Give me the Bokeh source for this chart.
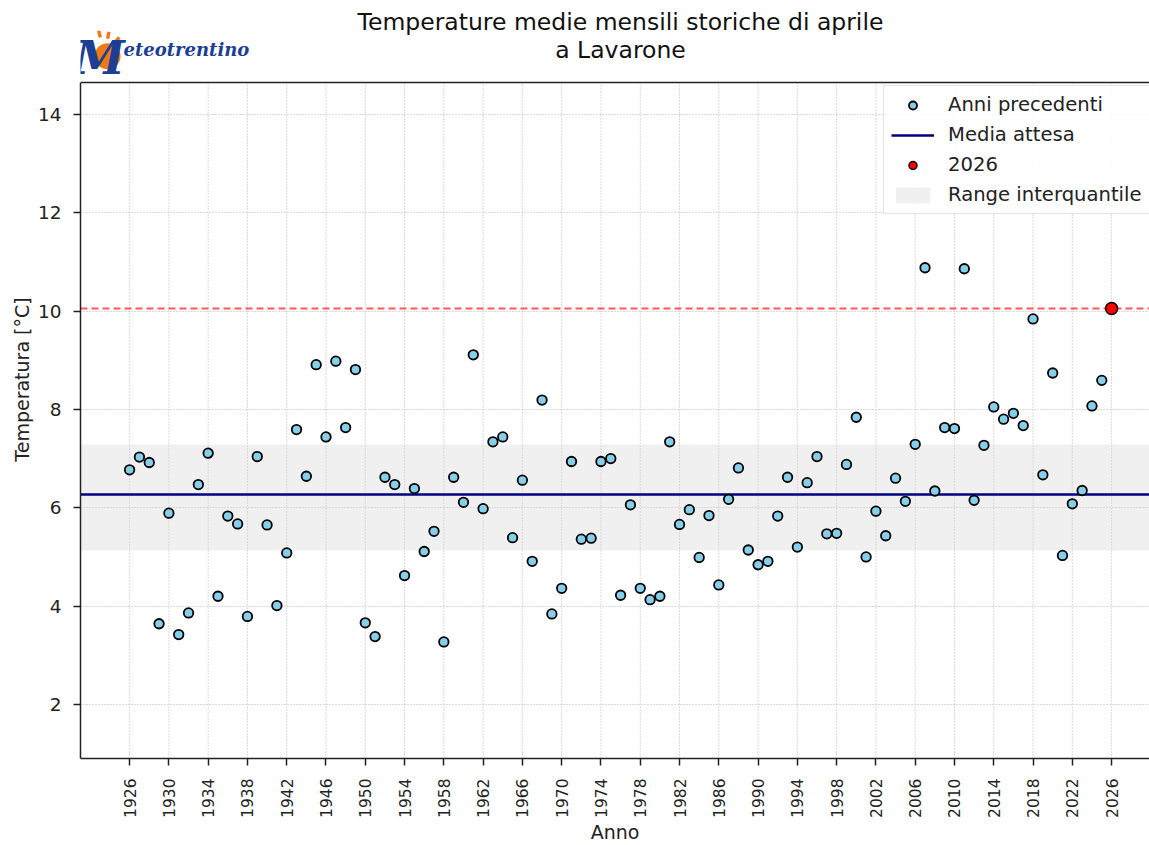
import math
from bokeh.plotting import figure
from bokeh.models import Range1d, FixedTicker, Legend, LegendItem, Label
from bokeh.embed import file_html
from bokeh.resources import INLINE

# ---------------- data ----------------
years = list(range(1926, 2026))
temps = [
    6.77, 7.03, 6.92, 3.64, 5.89, 3.42, 3.86, 6.47, 7.11, 4.20,   # 1926-1935
    5.83, 5.67, 3.79, 7.04, 5.65, 4.01, 5.08, 7.59, 6.64, 8.91,   # 1936-1945
    7.44, 8.98, 7.63, 8.81, 3.66, 3.38, 6.62, 6.47, 4.62, 6.39,   # 1946-1955
    5.11, 5.52, 3.27, 6.62, 6.11, 9.11, 5.98, 7.34, 7.44, 5.39,   # 1956-1965
    6.56, 4.91, 8.19, 3.84, 4.36, 6.94, 5.36, 5.38, 6.94, 7.00,   # 1966-1975
    4.22, 6.06, 4.36, 4.13, 4.20, 7.34, 5.66, 5.96, 4.99, 5.84,   # 1976-1985
    4.43, 6.17, 6.81, 5.14, 4.84, 4.91, 5.83, 6.62, 5.20, 6.51,   # 1986-1995
    7.04, 5.47, 5.48, 6.88, 7.84, 5.00, 5.93, 5.43, 6.60, 6.13,   # 1996-2005
    7.29, 10.88, 6.34, 7.63, 7.61, 10.86, 6.15, 7.27, 8.05, 7.80,  # 2006-2015
    7.92, 7.67, 9.84, 6.67, 8.74, 5.03, 6.08, 6.35, 8.07, 8.59,   # 2016-2025
]
current_year = 2026
current_temp = 10.05
mean_expected = 6.27
q25 = 5.14
q75 = 7.29

x_ticks = list(range(1926, 2027, 4))
y_ticks = [2, 4, 6, 8, 10, 12, 14]
title_lines = ["Temperature medie mensili storiche di aprile", "a Lavarone"]
legend_labels = ["Anni precedenti", "Media attesa", str(current_year), "Range interquantile"]

# ---------------- geometry ----------------
W, H = 1149, 845
FRAME_LEFT, AXES_TOP, FRAME_BOTTOM = 80, 82, 759   # page pixels
X0, X1 = 1921.0, 2029.86                           # visible x span of the axes
Y0, YTOP = 0.9, 14.65                              # y span of the axes box
PX_PER_Y = (FRAME_BOTTOM - AXES_TOP) / (YTOP - Y0)
YR1 = Y0 + FRAME_BOTTOM / PX_PER_Y                 # frame reaches the top of the canvas
PX_PER_X = (W - FRAME_LEFT) / (X1 - X0)


def at(px, py):
    """page pixel -> data coordinates"""
    return X0 + (px - FRAME_LEFT) / PX_PER_X, YR1 - py / PX_PER_Y


FONT = "DejaVu Sans"
INK = "#222222"
LOGO_BLUE = "#1c3f94"
LOGO_ORANGE = "#f07a12"

p = figure(width=W, height=H,
           x_range=Range1d(X0, X1), y_range=Range1d(Y0, YR1),
           output_backend="svg", toolbar_location=None, title_location=None,
           min_border_left=FRAME_LEFT, min_border_right=0,
           min_border_top=0, min_border_bottom=H - FRAME_BOTTOM)
p.outline_line_color = None
p.background_fill_color = "white"
p.border_fill_color = "white"

# grid: horizontal from the grid model, vertical drawn only inside the axes box
p.xgrid.visible = False
p.ygrid.ticker = FixedTicker(ticks=y_ticks)
p.ygrid.grid_line_color = "#b5b5b5"
p.ygrid.grid_line_dash = "1 2"
p.ygrid.grid_line_width = 1
p.segment(x0=x_ticks, y0=[Y0] * len(x_ticks), x1=x_ticks, y1=[YTOP] * len(x_ticks),
          line_color="#b5b5b5", line_dash="1 2", line_width=1)

# glyphs
band_r = p.hstrip(y0=[q25], y1=[q75], fill_color="lightgray", fill_alpha=0.35, line_color=None)
mean_r = p.hspan(y=[mean_expected], line_color="navy", line_width=2.7)
p.hspan(y=[current_temp], line_color="red", line_alpha=0.65, line_width=1.8, line_dash="7 4")
past_r = p.scatter(years, temps, size=9.5, fill_color="skyblue",
                   line_color="black", line_width=1.8)
cur_r = p.scatter([current_year], [current_temp], size=12, fill_color="red",
                  line_color="black", line_width=1.5)

# top spine of the axes box
p.hspan(y=[YTOP], line_color=INK, line_width=1.5)

# axes
ax = p.xaxis[0]
ax.ticker = FixedTicker(ticks=x_ticks)
ax.major_label_orientation = math.pi / 2
ax.major_label_text_font_size = "15.5px"
ax.major_label_standoff = 13
ax.axis_label = "Anno"
ax.axis_label_standoff = 0

ay = p.yaxis[0]
ay.ticker = FixedTicker(ticks=y_ticks)
ay.bounds = (Y0, YTOP)
ay.major_label_text_font_size = "18.5px"
ay.major_label_standoff = 12
ay.axis_label = "Temperatura [°C]"
ay.axis_label_standoff = 2

for a in (ax, ay):
    a.major_label_text_font = FONT
    a.major_label_text_color = INK
    a.axis_label_text_font = FONT
    a.axis_label_text_font_style = "normal"
    a.axis_label_text_font_size = "19px"
    a.axis_label_text_color = INK
    a.axis_line_color = INK
    a.axis_line_width = 1.5
    a.major_tick_line_color = INK
    a.major_tick_line_width = 1.5
    a.major_tick_in = 0
    a.major_tick_out = 7
    a.minor_tick_line_color = None

# legend
legend = Legend(items=[
    LegendItem(label=legend_labels[0], renderers=[past_r]),
    LegendItem(label=legend_labels[1], renderers=[mean_r]),
    LegendItem(label=legend_labels[2], renderers=[cur_r]),
    LegendItem(label=legend_labels[3], renderers=[band_r]),
], location=(803, 544))
legend.label_text_font = FONT
legend.label_text_font_size = "19.6px"
legend.label_text_color = INK
legend.glyph_width = 43
legend.glyph_height = 20
legend.label_height = 20
legend.label_standoff = 14
legend.spacing = 7
legend.padding = 7
legend.margin = 0
legend.border_line_color = "#cccccc"
legend.border_line_width = 1
legend.background_fill_color = "white"
legend.background_fill_alpha = 0.85
p.add_layout(legend, "center")


def add_label(px, py, text, **kw):
    x, y = at(px, py)
    p.add_layout(Label(x=x, y=y, text=text, **kw))


# title (two centred lines over the axes)
for i, line in enumerate(title_lines):
    add_label(620, 22 + 28 * i, line, text_font=FONT, text_font_size="23.5px",
              text_color="#111111", text_align="center", text_baseline="middle")

# logo (approximation with text)
add_label(107, 53, "●", text_font=FONT, text_font_size="34px", text_color=LOGO_ORANGE,
          text_align="center", text_baseline="middle")
for rx, ry, ang in [(99, 33, 0.25), (108, 34, -0.2), (117, 39, -0.7)]:
    add_label(rx, ry, "▮", text_font=FONT, text_font_size="9px", text_color=LOGO_ORANGE,
              text_align="center", text_baseline="middle", angle=ang)
add_label(99, 58, "M", text_font="DejaVu Serif", text_font_style="bold italic",
          text_font_size="46px", text_color=LOGO_BLUE, text_align="center", text_baseline="middle")
add_label(123, 49, "eteotrentino", text_font="DejaVu Serif", text_font_style="bold italic",
          text_font_size="18px", text_color=LOGO_BLUE, text_align="left", text_baseline="middle")

open("out.html", "w").write(file_html(p, INLINE))
